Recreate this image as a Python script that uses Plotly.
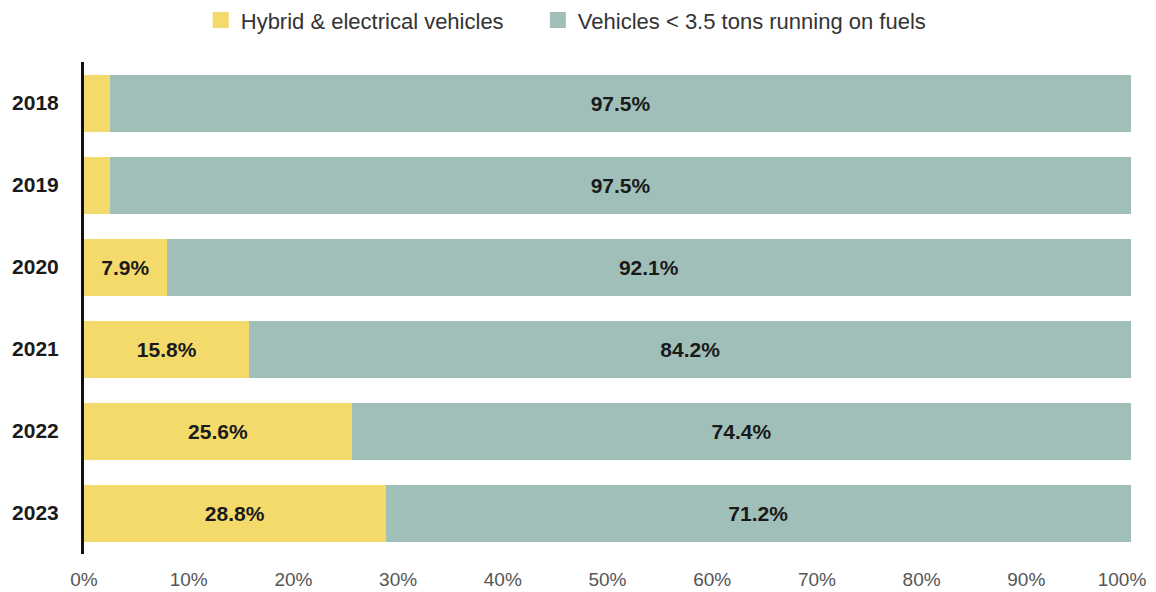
import plotly.graph_objects as go

years = ["2018", "2019", "2020", "2021", "2022", "2023"]
hybrid = [2.5, 2.5, 7.9, 15.8, 25.6, 28.8]
fuels = [97.5, 97.5, 92.1, 84.2, 74.4, 71.2]
series_names = ["Hybrid & electrical vehicles", "Vehicles < 3.5 tons running on fuels"]
colors = ["#F3DA6B", "#A1BFB9"]
x_ticks = [0, 10, 20, 30, 40, 50, 60, 70, 80, 90, 100]

FONT = "Liberation Sans, Arial, sans-serif"

def labels(vals):
    return [f"{v}%" if v >= 5 else "" for v in vals]

fig = go.Figure()
for vals, name, col in zip([hybrid, fuels], series_names, colors):
    fig.add_trace(go.Bar(
        y=years, x=vals, orientation="h", name=name, showlegend=False,
        marker=dict(color=col, line=dict(width=0)),
        text=labels(vals), textposition="inside", insidetextanchor="middle",
        textfont=dict(family=FONT, size=21, color="#1a1a1a", weight="bold"),
        textangle=0, hoverinfo="skip",
    ))
# legend entries with larger square swatches, one legend box per series
for name, col, lg in zip(series_names, colors, ["legend", "legend2"]):
    fig.add_trace(go.Scatter(
        x=[None], y=[None], mode="markers", name=name, legend=lg,
        marker=dict(symbol="square", size=20, color=col),
        showlegend=True, hoverinfo="skip",
    ))
# invisible helper trace so the overlay axis carrying the last tick label is drawn
fig.add_trace(go.Scatter(x=[None], y=[None], xaxis="x2", mode="markers",
                         showlegend=False, hoverinfo="skip"))

legend_common = dict(
    orientation="h", y=1.085, yanchor="middle", xanchor="left",
    font=dict(family=FONT, size=22, color="#333333"),
    itemwidth=30, bgcolor="rgba(0,0,0,0)",
)
tick_font = dict(family=FONT, size=19, color="#555555")

fig.update_layout(
    width=1148, height=584,
    barmode="stack", bargap=0.305,
    plot_bgcolor="white", paper_bgcolor="white",
    margin=dict(l=76, r=25, t=54, b=38, autoexpand=False),
    font=dict(family=FONT),
    uniformtext=dict(minsize=10, mode="show"),
    legend=dict(x=0.1115, **legend_common),
    legend2=dict(x=0.4335, **legend_common),
    xaxis=dict(
        range=[0, 100], tickvals=x_ticks[:-1],
        ticktext=[f"{t}%" for t in x_ticks[:-1]],
        showgrid=False, zeroline=False, showline=False,
        ticks="outside", ticklen=8, tickcolor="white",
        tickfont=tick_font, fixedrange=True,
    ),
    xaxis2=dict(
        overlaying="x", anchor="y", side="bottom",
        range=[0, 100], tickvals=x_ticks[-1:],
        ticktext=[f"{t}%" for t in x_ticks[-1:]],
        showgrid=False, zeroline=False, showline=False,
        ticks="outside", ticklen=8, tickcolor="white",
        ticklabelshift=-9,
        tickfont=tick_font, fixedrange=True,
    ),
    yaxis=dict(
        autorange="reversed", showgrid=False, zeroline=False,
        showline=True, linecolor="#111111", linewidth=3,
        ticks="outside", ticklen=18, tickcolor="white",
        tickfont=dict(family=FONT, size=21, color="#1a1a1a", weight="bold"),
    ),
)

fig.write_html("out.html")
